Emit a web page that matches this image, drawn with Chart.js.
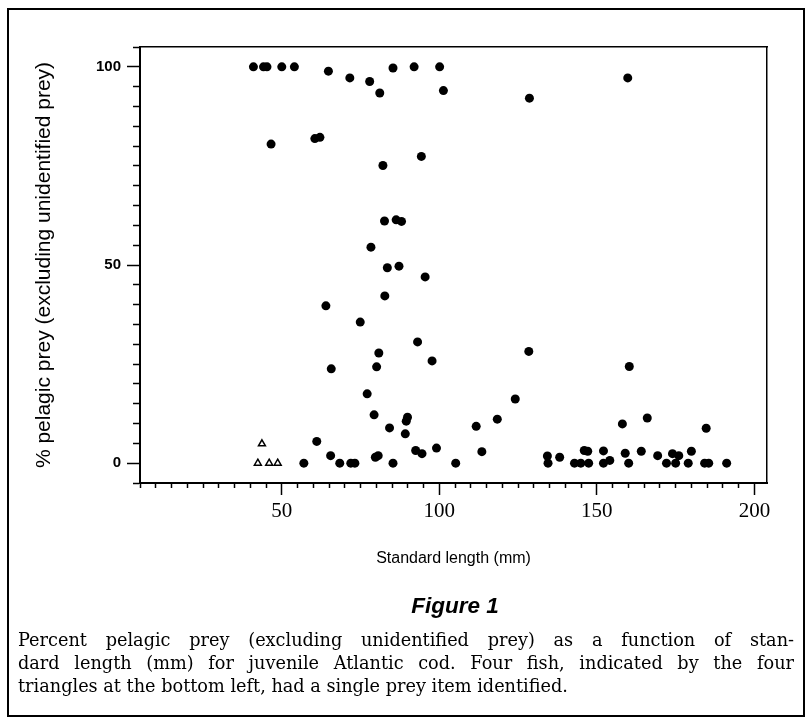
<!DOCTYPE html>
<html>
<head>
<meta charset="utf-8">
<script src="https://cdn.jsdelivr.net/npm/chart.js@4"></script>
<style>
  html, body { margin: 0; padding: 0; background: #fff; }
  #page { position: relative; width: 811px; height: 724px; overflow: hidden; }
  #chart { position: absolute; left: 0; top: 0; }
  #frame { position: absolute; left: 7px; top: 8px; width: 794px; height: 705px; border: 2px solid #000; }
  #figLabel { position: absolute; left: 355px; width: 200px; top: 593px; text-align: center;
    font: italic bold 22.5px 'Liberation Sans', Arial, sans-serif; color: #000; }
  #caption { position: absolute; left: 18px; width: 776px; top: 629px;
    font: 17.7px 'DejaVu Serif', serif; line-height: 23px; color: #000; }
  #caption div { white-space: nowrap; text-align: justify; text-align-last: justify; }
  #caption div.last { text-align: left; text-align-last: left; }
</style>
</head>
<body>
<div id="page">
  <canvas id="chart" width="811" height="724"></canvas>
  <div id="frame"></div>
  <div id="figLabel">Figure 1</div>
  <div id="caption">
    <div>Percent pelagic prey (excluding unidentified prey) as a function of stan-</div>
    <div>dard length (mm) for juvenile Atlantic cod. Four fish, indicated by the four</div>
    <div class="last">triangles at the bottom left, had a single prey item identified.</div>
  </div>
</div>
<script>
// fish with more than one identified prey item (filled dots)
const lengthMm = [
  41.0, 44.2, 45.3, 50.0, 54.0, 46.6, 60.5, 62.1, 64.8, 71.6,
  77.9, 81.1, 85.3, 92.0, 100.1, 101.3, 82.1, 94.3, 128.6, 159.8,
  82.6, 86.3, 88.0, 78.3, 83.5, 87.2, 95.5, 82.7, 64.0, 74.9,
  93.1, 80.8, 65.7, 80.1, 97.7, 77.1, 79.3, 84.2, 89.9, 89.5,
  89.2, 61.1, 65.5, 57.0, 68.4, 71.9, 73.2, 79.7, 80.6, 85.3,
  92.5, 94.5, 99.1, 105.2, 111.7, 113.5, 118.4, 124.1, 128.4, 160.3,
  158.1, 166.0, 184.7, 134.3, 134.5, 138.2, 142.9, 144.9, 147.4, 146.0,
  147.1, 152.1, 152.1, 154.1, 159.0, 160.1, 164.1, 169.3, 172.1, 174.0,
  176.0, 175.0, 179.0, 180.0, 184.2, 185.5, 191.2
];
const pelagicPct = [
  100, 100, 100, 100, 100, 80.5, 81.9, 82.2, 98.9, 97.2,
  96.3, 93.4, 99.7, 100, 100, 94.0, 75.1, 77.4, 92.1, 97.2,
  61.1, 61.4, 61.0, 54.5, 49.3, 49.7, 47.0, 42.2, 39.7, 35.6,
  30.6, 27.8, 23.8, 24.3, 25.8, 17.5, 12.2, 8.9, 11.6, 10.6,
  7.4, 5.5, 1.9, 0, 0, 0, 0, 1.5, 1.9, 0,
  3.2, 2.4, 3.8, 0, 9.3, 2.9, 11.1, 16.2, 28.2, 24.4,
  9.9, 11.4, 8.8, 1.8, 0, 1.5, 0, 0, 0, 3.2,
  3.0, 3.1, 0, 0.7, 2.5, 0, 3.0, 1.9, 0, 2.4,
  1.9, 0, 0, 3.0, 0, 0, 0
];
// fish with a single prey item identified (triangles)
const singleLengthMm = [43.7, 42.4, 46.0, 48.7];
const singlePelagicPct = [4.9, 0, 0, 0];

const xTickValues = [50, 100, 150, 200];
const yTickValues = [0, 50, 100];

const xMin = 5, xMax = 204, yMin = -5, yMax = 105;
const SANS = "'Liberation Sans', Arial, sans-serif";
const SERIF = "'Liberation Serif', 'Times New Roman', serif";

const pts = (xs, ys) => xs.map((x, i) => ({ x, y: ys[i] }));
const fixedTicks = vals => s => { s.ticks = vals.map(v => ({ value: v })); };

new Chart(document.getElementById('chart'), {
  type: 'scatter',
  data: {
    datasets: [
      {
        data: pts(lengthMm, pelagicPct),
        pointStyle: 'circle', pointRadius: 4.5, pointBackgroundColor: '#000', pointBorderWidth: 0
      },
      {
        data: pts(singleLengthMm, singlePelagicPct),
        pointStyle: 'triangle', pointRadius: 4, pointBackgroundColor: '#fff',
        pointBorderColor: '#000', pointBorderWidth: 1.5
      }
    ]
  },
  options: {
    responsive: false, devicePixelRatio: 1, animation: false,
    layout: { padding: { left: 30, top: 47, right: 44, bottom: 152 } },
    plugins: { legend: { display: false }, tooltip: { enabled: false } },
    scales: {
      // minor ticks, every 5 mm, carry the frame's bottom line
      x: {
        type: 'linear', position: 'bottom', weight: 0, min: xMin, max: xMax,
        ticks: { display: false, stepSize: 5, includeBounds: false },
        grid: { drawOnChartArea: false, tickLength: 5, tickColor: '#000', tickWidth: 1.5 },
        border: { display: true, color: '#000', width: 2 },
        afterFit: s => { s.height = 5; }
      },
      // major ticks with labels and title, stacked just below
      xMajor: {
        type: 'linear', position: 'bottom', weight: 1, min: xMin, max: xMax,
        afterBuildTicks: fixedTicks(xTickValues),
        ticks: { autoSkip: false, maxRotation: 0, padding: 4,
          color: '#000', font: { family: SERIF, size: 21 } },
        grid: { drawOnChartArea: false, tickLength: 7, tickColor: '#000', tickWidth: 1.5 },
        border: { display: false },
        title: { display: true, text: 'Standard length (mm)', color: '#000',
          font: { family: SANS, size: 16 }, padding: { top: 4, bottom: 4 } },
        afterFit: s => { s.height = 84; }
      },
      xTop: {
        type: 'linear', position: 'top', min: xMin, max: xMax,
        ticks: { display: false }, grid: { drawOnChartArea: false, drawTicks: false },
        border: { display: true, color: '#000', width: 1.5 },
        afterFit: s => { s.height = 0; }
      },
      y: {
        type: 'linear', position: 'left', weight: 0, min: yMin, max: yMax,
        ticks: { display: false, stepSize: 5, includeBounds: false },
        grid: { drawOnChartArea: false, tickLength: 7, tickColor: '#000', tickWidth: 1.5 },
        border: { display: true, color: '#000', width: 2 },
        afterFit: s => { s.width = 7; }
      },
      yMajor: {
        type: 'linear', position: 'left', weight: 1, min: yMin, max: yMax,
        afterBuildTicks: fixedTicks(yTickValues),
        ticks: { autoSkip: false, padding: 6,
          color: '#000', font: { family: SANS, size: 15, weight: 'bold' } },
        grid: { drawOnChartArea: false, tickLength: 6, tickColor: '#000', tickWidth: 1.5 },
        border: { display: false },
        title: { display: true, text: '% pelagic prey (excluding unidentified prey)', color: '#000',
          font: { family: SANS, size: 21 }, padding: { top: 2, bottom: 2 } },
        afterFit: s => { s.width = 103; }
      },
      yRight: {
        type: 'linear', position: 'right', min: yMin, max: yMax,
        ticks: { display: false }, grid: { drawOnChartArea: false, drawTicks: false },
        border: { display: true, color: '#000', width: 1.5 },
        afterFit: s => { s.width = 0; }
      }
    }
  }
});
</script>
</body>
</html>
